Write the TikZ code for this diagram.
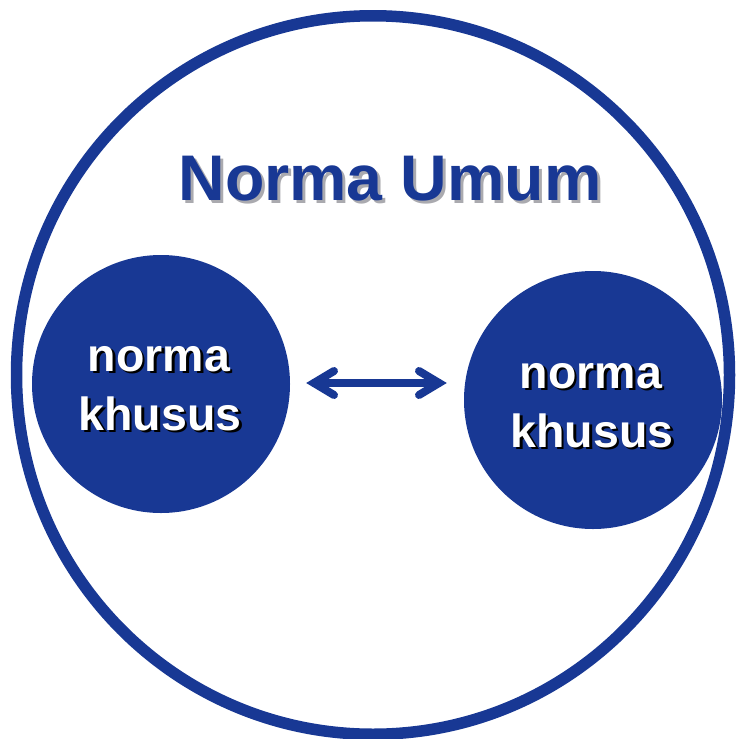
\documentclass[tikz,border=0pt]{standalone}
\usepackage{fontspec}
\setmainfont{Liberation Sans}
\usetikzlibrary{calc}

\definecolor{normblue}{RGB}{24,56,148}
\definecolor{titleshade}{RGB}{170,170,175}

% text with a drop shadow: #1 shadow colour, #2 dx, #3 dy, #4 text
\newcommand{\dropshade}[4]{%
  \makebox[0pt][l]{\hspace*{#2}\raisebox{-#3}{\color{#1}#4}}#4}

\tikzset{
  outerring/.style={draw=normblue, line width=11.5pt},
  disc/.style={circle, fill=normblue, minimum size=258pt, inner sep=0pt},
  titletext/.style={text=normblue, anchor=base, inner sep=0pt,
    font=\bfseries\fontsize{64.5}{72}\selectfont},
  disctext/.style={text=white, anchor=base, inner sep=0pt,
    font=\bfseries\fontsize{46.5}{56}\selectfont},
  linkline/.style={draw=normblue, line width=8pt, line cap=round},
  barb/.style={draw=normblue, line width=8pt, line cap=round, line join=miter, miter limit=10},
}

\begin{document}
\begin{tikzpicture}[x=1pt, y=-1pt]
  \useasboundingbox (0,0) rectangle (736,739);

  % outer ring
  \draw[outerring] (373,375) ellipse [x radius=356.5, y radius=359.25];

  % title
  \node[titletext] (title) at (390,200) {\dropshade{titleshade}{3pt}{3pt}{Norma Umum}};

  % the two inner discs
  \node[disc] (L) at (161,384) {};
  \node[disc] (R) at (593,400) {};

  \node[disctext] (L1) at (159,371) {\dropshade{black}{2.5pt}{2.5pt}{norma}};
  \node[disctext] (L2) at (160,430) {\dropshade{black}{2.5pt}{2.5pt}{khusus}};
  \node[disctext] (R1) at (591,388) {\dropshade{black}{2.5pt}{2.5pt}{norma}};
  \node[disctext] (R2) at (592,447) {\dropshade{black}{2.5pt}{2.5pt}{khusus}};

  % double-headed link between the discs
  \coordinate (ta) at (314,383);
  \coordinate (tb) at (439,383);
  \draw[linkline] (ta) -- (tb);
  \draw[barb] ($(ta)+(20,-12)$) -- (ta) -- ($(ta)+(20,12)$);
  \draw[barb] ($(tb)+(-20,-12)$) -- (tb) -- ($(tb)+(-20,12)$);
\end{tikzpicture}
\end{document}
